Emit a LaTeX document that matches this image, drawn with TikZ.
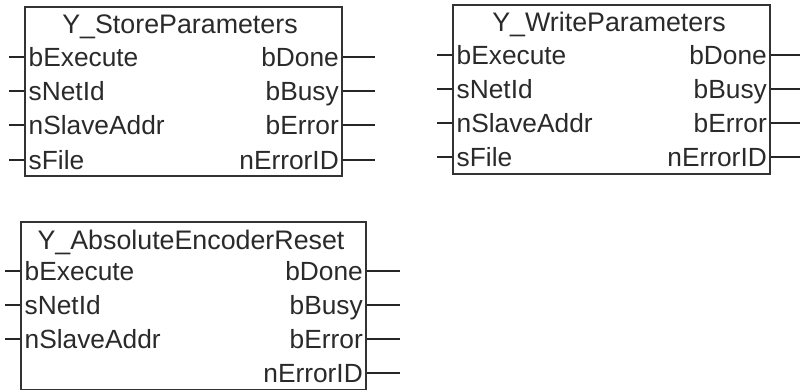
\documentclass[tikz,border=0pt]{standalone}
\usepackage{fontspec}
\setmainfont{Liberation Sans}
\definecolor{ink}{HTML}{2A2A2A}
\definecolor{edge}{HTML}{333333}
\tikzset{
  fb/.style={draw=edge,line width=2pt,fill=white,inner sep=0pt,anchor=north west},
  lab/.style={inner sep=0pt,text=ink,font=\fontsize{26.3}{28}\selectfont,text height=19pt,text depth=0pt},
  title/.style={lab,anchor=base,font=\fontsize{26.8}{28}\selectfont},
  inl/.style={lab,anchor=base west},
  outl/.style={lab,anchor=base east},
  wire/.style={draw=black!85,line width=1.6pt},
}
% name, box, wire y, free-end x, text
\newcommand{\inpin}[5]{%
  \coordinate (#1e) at (#4,#3);
  \path (#1e -| #2.west) ++(5,9.5) node[inl] (#1) {#5};
  \draw[wire] (#1e) -- (#1e -| #2.west);
}
\newcommand{\outpin}[5]{%
  \coordinate (#1e) at (#4,#3);
  \path (#1e -| #2.east) ++(-4,9.5) node[outl] (#1) {#5};
  \draw[wire] (#2.east |- #1e) -- (#1e);
}
\begin{document}
\begin{tikzpicture}[x=1pt,y=-1pt]
\useasboundingbox (0,0) rectangle (800,390);
% Box A
\node[fb,minimum width=317.5pt,minimum height=168.5pt] (A) at (23.5,6.5) {};
\node[title] (At) at (180,34) {Y\_StoreParameters};
\inpin{Aa}{A}{57}{9}{bExecute}
\inpin{Ab}{A}{91}{9}{sNetId}
\inpin{Ac}{A}{125}{9}{nSlaveAddr}
\inpin{Ad}{A}{160}{9}{sFile}
\outpin{Ae}{A}{57}{375}{bDone}
\outpin{Af}{A}{91}{375}{bBusy}
\outpin{Ag}{A}{125}{375}{bError}
\outpin{Ah}{A}{160}{375}{nErrorID}
% Box B
\node[fb,minimum width=317.5pt,minimum height=169pt] (B) at (451.5,4.5) {};
\node[title] (Bt) at (609,32) {Y\_WriteParameters};
\inpin{Ba}{B}{55}{437}{bExecute}
\inpin{Bb}{B}{89}{437}{sNetId}
\inpin{Bc}{B}{123}{437}{nSlaveAddr}
\inpin{Bd}{B}{157}{437}{sFile}
\outpin{Be}{B}{55}{800}{bDone}
\outpin{Bf}{B}{89}{800}{bBusy}
\outpin{Bg}{B}{123}{800}{bError}
\outpin{Bh}{B}{157}{800}{nErrorID}
% Box C
\node[fb,minimum width=345.5pt,minimum height=168pt] (C) at (19.5,220.5) {};
\node[title] (Ct) at (191,249) {Y\_AbsoluteEncoderReset};
\inpin{Ca}{C}{271}{5}{bExecute}
\inpin{Cb}{C}{305}{5}{sNetId}
\inpin{Cc}{C}{339}{5}{nSlaveAddr}
\outpin{Ce}{C}{271}{400}{bDone}
\outpin{Cf}{C}{305}{400}{bBusy}
\outpin{Cg}{C}{339}{400}{bError}
\outpin{Ch}{C}{373}{400}{nErrorID}
\end{tikzpicture}
\end{document}
